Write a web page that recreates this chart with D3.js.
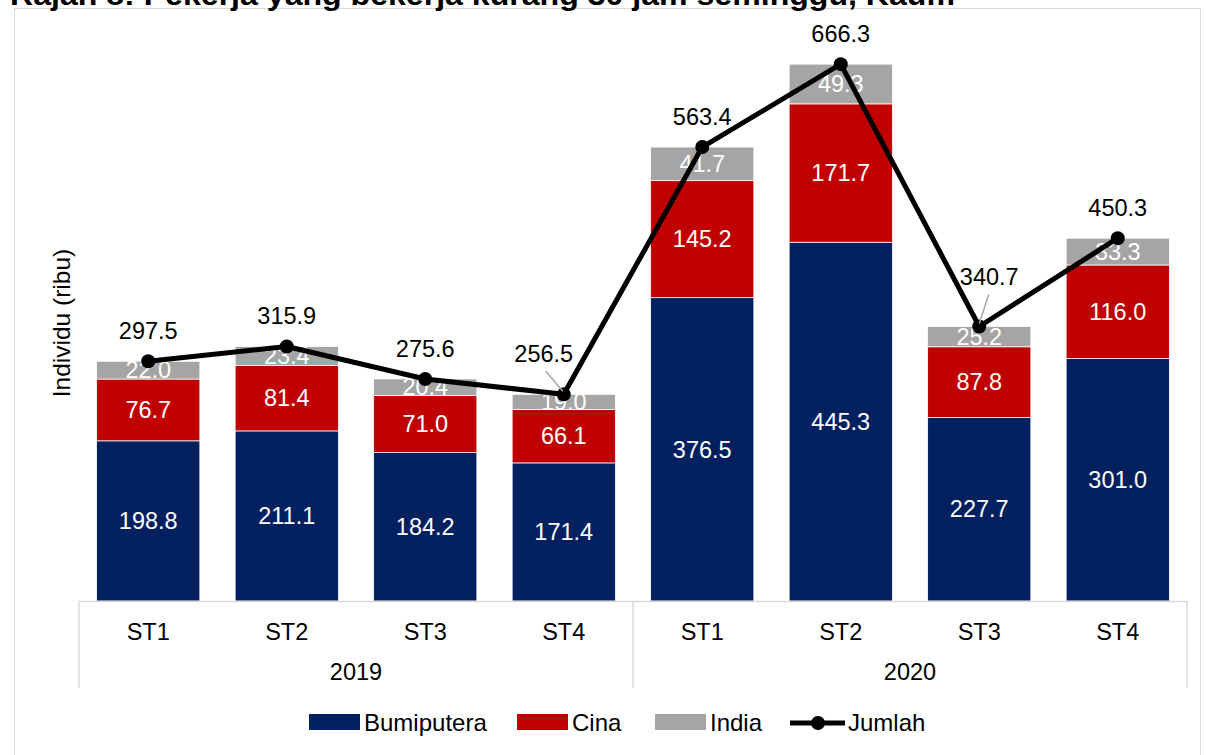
<!DOCTYPE html>
<html>
<head>
<meta charset="utf-8">
<script src="https://cdn.jsdelivr.net/npm/d3@7"></script>
<style>
  body { margin: 0; background: #fff; }
  svg { display: block; font-family: "Liberation Sans", Arial, sans-serif; }
</style>
</head>
<body>
<div id="chart"></div>
<script>
// Data
const years = ['2019', '2020'];
const quarters = ['ST1', 'ST2', 'ST3', 'ST4'];
const bumiputera = [198.8, 211.1, 184.2, 171.4, 376.5, 445.3, 227.7, 301.0];
const cina = [76.7, 81.4, 71.0, 66.1, 145.2, 171.7, 87.8, 116.0];
const india = [22.0, 23.4, 20.4, 19.0, 41.7, 49.3, 25.2, 33.3];
const jumlah = [297.5, 315.9, 275.6, 256.5, 563.4, 666.3, 340.7, 450.3];

const seriesNames = ['Bumiputera', 'Cina', 'India'];
const colors = { Bumiputera: '#002060', Cina: '#C00000', India: '#A5A5A5' };

const width = 1206, height = 755;
const plot = { left: 79, right: 1187, top: 37, bottom: 601 };
const labelSize = 23.5;

const svg = d3.select('#chart').append('svg')
    .attr('width', width)
    .attr('height', height);

// chart frame
svg.append('rect')
    .attr('x', 14.5).attr('y', 8.5)
    .attr('width', 1186).attr('height', 770)
    .attr('fill', '#fff')
    .attr('stroke', '#d9d9d9');

// title, cut off at the top like the source
svg.append('text')
    .attr('x', 10).attr('y', 5)
    .attr('font-size', 29)
    .attr('font-weight', 'bold')
    .attr('textLength', 945)
    .attr('lengthAdjust', 'spacingAndGlyphs')
    .attr('fill', '#000')
    .text('Rajah 8: Pekerja yang bekerja kurang 30 jam seminggu, Kaum');

const cats = d3.range(jumlah.length);
const rows = cats.map(i => ({ i, Bumiputera: bumiputera[i], Cina: cina[i], India: india[i] }));

const x = d3.scaleBand()
    .domain(cats)
    .range([plot.left, plot.right])
    .paddingInner(0.255)
    .paddingOuter(0.1275);

const y = d3.scaleLinear()
    .domain([0, 700])
    .range([plot.bottom, plot.top]);

const stack = d3.stack().keys(seriesNames)(rows);

// bars
const layers = svg.append('g').selectAll('g')
    .data(stack)
    .join('g')
    .attr('fill', d => colors[d.key]);

layers.selectAll('rect')
    .data(d => d)
    .join('rect')
    .attr('x', d => x(d.data.i))
    .attr('y', d => y(d[1]))
    .attr('width', x.bandwidth())
    .attr('height', d => y(d[0]) - y(d[1]))
    .attr('stroke', '#fff')
    .attr('stroke-width', 0.75);

// segment labels
layers.selectAll('text')
    .data(d => d)
    .join('text')
    .attr('x', d => x(d.data.i) + x.bandwidth() / 2)
    .attr('y', d => (y(d[0]) + y(d[1])) / 2)
    .attr('dy', '0.35em')
    .attr('text-anchor', 'middle')
    .attr('font-size', labelSize)
    .attr('fill', '#fff')
    .text(d => d3.format('.1f')(d[1] - d[0]));

// category axis
const axisG = svg.append('g').attr('stroke', '#d9d9d9').attr('stroke-width', 1.5);
axisG.append('line')
    .attr('x1', plot.left).attr('x2', plot.right)
    .attr('y1', plot.bottom + 0.5).attr('y2', plot.bottom + 0.5);
[0, 4, 8].forEach(k => {
    const xx = k < 8 ? x(k) - x.step() * x.paddingInner() / 2 : plot.right;
    axisG.append('line')
        .attr('x1', xx).attr('x2', xx)
        .attr('y1', plot.bottom).attr('y2', 688);
});

svg.append('g').selectAll('text')
    .data(cats)
    .join('text')
    .attr('x', i => x(i) + x.bandwidth() / 2)
    .attr('y', 640)
    .attr('text-anchor', 'middle')
    .attr('font-size', labelSize)
    .attr('fill', '#000')
    .text(i => quarters[i % 4]);

svg.append('g').selectAll('text')
    .data(years)
    .join('text')
    .attr('x', (d, k) => (x(k * 4) + x(k * 4 + 3) + x.bandwidth()) / 2)
    .attr('y', 680)
    .attr('text-anchor', 'middle')
    .attr('font-size', labelSize)
    .attr('fill', '#000')
    .text(d => d);

// y axis title
svg.append('text')
    .attr('transform', 'translate(70,323) rotate(-90)')
    .attr('text-anchor', 'middle')
    .attr('font-size', 24.5)
    .attr('fill', '#000')
    .text('Individu (ribu)');

// Jumlah line
const cx = i => x(i) + x.bandwidth() / 2;
svg.append('path')
    .datum(cats)
    .attr('fill', 'none')
    .attr('stroke', '#000')
    .attr('stroke-width', 5)
    .attr('stroke-linejoin', 'round')
    .attr('d', d3.line().x(cx).y(i => y(jumlah[i])));

svg.append('g').selectAll('circle')
    .data(cats)
    .join('circle')
    .attr('cx', cx)
    .attr('cy', i => y(jumlah[i]))
    .attr('r', 7)
    .attr('fill', '#000');

// total labels; two of them were moved aside with a leader line
const nudged = { 3: [-20, -32], 6: [10, -41] };
cats.filter(i => nudged[i]).forEach(i => {
    const [dx, dy] = nudged[i];
    svg.append('line')
        .attr('x1', cx(i) + dx * 0.95 + (dx < 0 ? 1 : 0))
        .attr('y1', y(jumlah[i]) + dy + 9)
        .attr('x2', cx(i) - (dx < 0 ? 1 : 0))
        .attr('y2', y(jumlah[i]) - 3)
        .attr('stroke', '#a6a6a6')
        .attr('stroke-width', 1.5);
});

svg.append('g').selectAll('text')
    .data(cats)
    .join('text')
    .attr('x', i => cx(i) + (nudged[i] ? nudged[i][0] : 0))
    .attr('y', i => y(jumlah[i]) + (nudged[i] ? nudged[i][1] : -22))
    .attr('text-anchor', 'middle')
    .attr('font-size', labelSize)
    .attr('fill', '#000')
    .text(i => d3.format('.1f')(jumlah[i]));

// legend
const legend = svg.append('g').attr('font-size', 24).attr('fill', '#000');
const legendX = [309, 517, 655];
seriesNames.forEach((name, k) => {
    legend.append('rect')
        .attr('x', legendX[k]).attr('y', 714)
        .attr('width', 51).attr('height', 16)
        .attr('fill', colors[name]);
    legend.append('text')
        .attr('x', legendX[k] + 55).attr('y', 731)
        .text(name);
});
legend.append('line')
    .attr('x1', 790).attr('x2', 845)
    .attr('y1', 723).attr('y2', 723)
    .attr('stroke', '#000').attr('stroke-width', 5);
legend.append('circle')
    .attr('cx', 818).attr('cy', 723).attr('r', 7).attr('fill', '#000');
legend.append('text')
    .attr('x', 848).attr('y', 731)
    .text('Jumlah');
</script>
</body>
</html>
